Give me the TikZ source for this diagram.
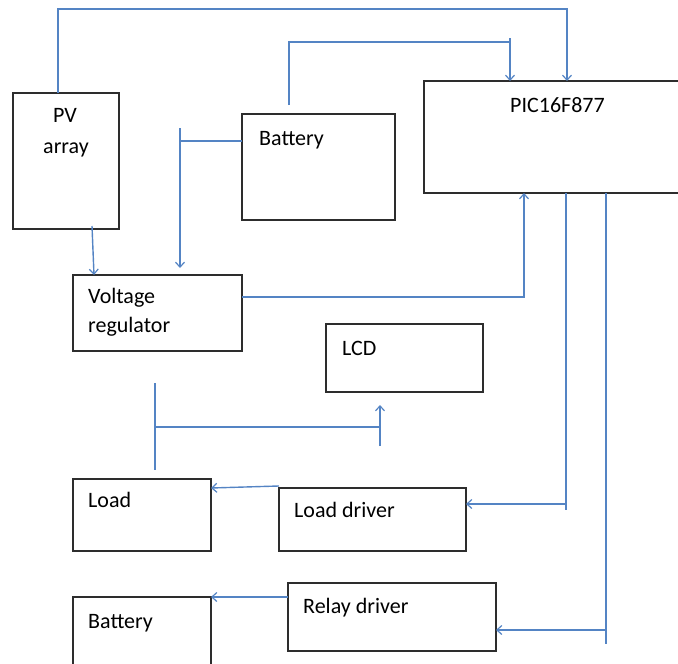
\documentclass[tikz,border=0pt]{standalone}
\usepackage{fontspec}
\setmainfont{Carlito}
\usetikzlibrary{arrows.meta,calc}
\definecolor{linec}{RGB}{84,132,196}
\definecolor{boxc}{RGB}{45,45,45}
\begin{document}
\begin{tikzpicture}[x=1pt,y=-1pt,
  box/.style={draw=boxc,line width=1.4pt,inner sep=0pt,outer sep=0pt,anchor=north west},
  conn/.style={draw=linec,line width=1.4pt},
  arr/.style={conn,-{Straight Barb[length=5pt,width=9pt,line width=1.2pt]}},
  lbl/.style={font=\fontsize{22}{26}\selectfont,text=black,inner sep=0pt,anchor=base west}]
\useasboundingbox (0,0) rectangle (678,664);
\clip (0,0) rectangle (678,664);
% boxes
\node[box,minimum width=106pt,minimum height=136pt] (pv) at (13,93) {};
\node[box,minimum width=153pt,minimum height=106pt] (bat) at (242,114) {};
\node[box,minimum width=280pt,minimum height=112pt] (pic) at (424,81) {};
\node[box,minimum width=169pt,minimum height=76pt] (vr) at (73,275) {};
\node[box,minimum width=157pt,minimum height=68pt] (lcd) at (326,324) {};
\node[box,minimum width=138pt,minimum height=72pt] (load) at (73,479) {};
\node[box,minimum width=187pt,minimum height=63pt] (ld) at (279,488) {};
\node[box,minimum width=208pt,minimum height=68pt] (rd) at (288,583) {};
\node[box,minimum width=138pt,minimum height=90pt] (bat2) at (73,597) {};
% labels
\node[lbl,anchor=base] (tpv1) at (65,122) {PV};
\node[lbl,anchor=base] (tpv2) at (66,153) {array};
\node[lbl] (tbat) at (259,145) {Battery};
\node[lbl] (tpic) at (510,112) {PIC16F877};
\node[lbl] (tvr1) at (88,303) {Voltage};
\node[lbl] (tvr2) at (88,332) {regulator};
\node[lbl] (tlcd) at (342,355) {LCD};
\node[lbl] (tload) at (88,507) {Load};
\node[lbl] (tld) at (294,517) {Load driver};
\node[lbl] (trd) at (303,613) {Relay driver};
\node[lbl] (tbat2) at (88,628) {Battery};
% coordinates
\coordinate (pvup) at (58,9);
\coordinate (bst) at (289,105);
\coordinate (bup) at (289,42);
\coordinate (bend) at (510,42);
\coordinate (btick) at (510,38);
\coordinate (blt) at (180,128);
\coordinate (blj) at (180,141);
\coordinate (la) at (155,383);
\coordinate (lb) at (155,470);
\coordinate (lj) at (155,427);
\coordinate (lk) at (380,427);
\coordinate (lc) at (380,446);
\coordinate (ldj) at (566,504);
\coordinate (ldend) at (566,510);
\coordinate (rdj) at (606,630);
\coordinate (rdend) at (606,644);
% connectors
\draw[arr] (pv.north -| pvup) -- (pvup) -| ([xshift=143pt]pic.north west);
\draw[conn] (bst) -- (bup) -- (bend);
\draw[arr] (btick) -- (pic.north -| btick);
\draw[conn] ([yshift=-27pt]bat.north west) -- (blj);
\draw[arr,shorten >=7pt] (blt) -- (vr.north -| blt);
\draw[arr] ([xshift=79pt,yshift=3pt]pv.south west) -- ([xshift=21pt]vr.north west);
\draw[arr] ([yshift=-22pt]vr.north east) -| ([xshift=100pt]pic.south west);
\draw[conn] (la) -- (lb);
\draw[conn] (lj) -- (lk);
\draw[arr,shorten >=13pt] (lc) -- (lcd.south -| lc);
\draw[conn] ([xshift=142pt]pic.south west) -- (ldend);
\draw[arr] (ldj) -- ([yshift=-16pt]ld.north east);
\draw[conn] ([xshift=182pt]pic.south west) -- (rdend);
\draw[arr] (rdj) -- ([yshift=-47pt]rd.north east);
\draw[arr] ([yshift=2pt]ld.north west) -- ([yshift=-9pt]load.north east);
\draw[arr] ([yshift=-14pt]rd.north west) -- (bat2.north east);
\end{tikzpicture}
\end{document}
